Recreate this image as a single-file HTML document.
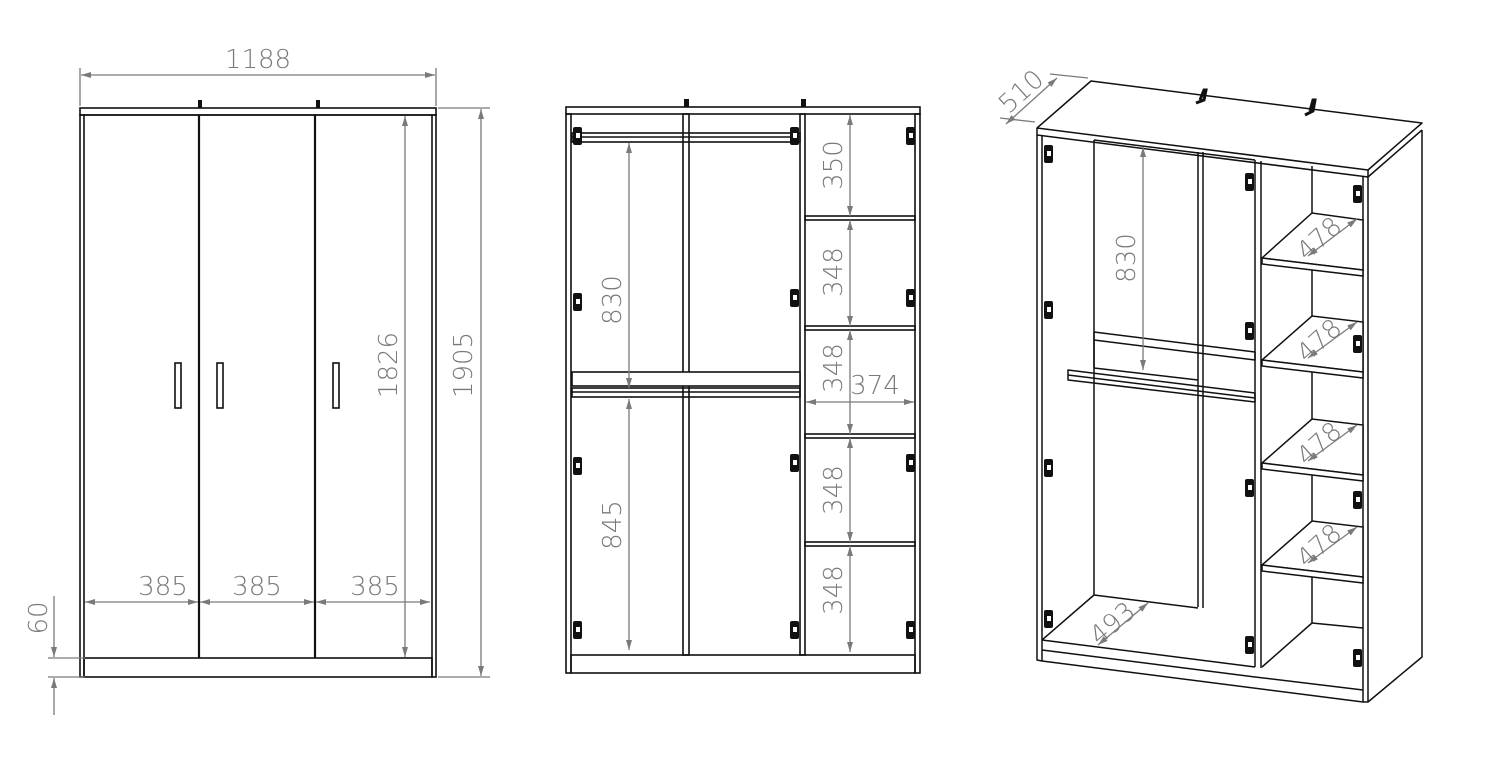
<!DOCTYPE html>
<html><head><meta charset="utf-8"><style>
html,body{margin:0;padding:0;background:#fff;}
svg{display:block}
text{font-family:"DejaVu Sans","Liberation Sans",sans-serif;fill:#7a7a7a;font-size:26px;font-weight:300}
</style></head><body>
<svg width="1500" height="769" viewBox="0 0 1500 769" xmlns="http://www.w3.org/2000/svg">
<defs>
<marker id="a" viewBox="0 0 10 6" refX="10" refY="3" markerWidth="14" markerHeight="6" markerUnits="userSpaceOnUse" orient="auto-start-reverse"><path d="M0,0L10,3L0,6z" fill="#7a7a7a"/></marker>
<g id="h"><rect x="-4" y="-9" width="9" height="18" rx="2" fill="#111"/><rect x="-1" y="-3" width="4" height="5" fill="#fff"/></g>
</defs>
<!-- LEFT WARDROBE -->
<g stroke="#111" stroke-width="1.6" fill="none">
<rect x="80" y="108" width="356" height="7"/>
<rect x="80" y="115" width="4" height="562"/><rect x="432" y="115" width="4" height="562"/>
<rect x="84" y="658" width="348" height="19"/>
<line x1="84" y1="115" x2="432" y2="115"/>
<line x1="199" y1="115" x2="199" y2="658" stroke-width="2.2"/>
<line x1="315" y1="115" x2="315" y2="658" stroke-width="2.2"/>
<rect x="175" y="363" width="6" height="45"/><rect x="217" y="363" width="6" height="45"/><rect x="333" y="363" width="6" height="45"/>
</g>
<rect x="198" y="100" width="4" height="8" fill="#111"/><rect x="316" y="100" width="4" height="8" fill="#111"/>
<!-- MIDDLE WARDROBE -->
<g stroke="#111" stroke-width="1.6" fill="none">
<rect x="566" y="107" width="354" height="7"/>
<rect x="566" y="114" width="5" height="559"/><rect x="915" y="114" width="5" height="559"/>
<rect x="571" y="655" width="344" height="18"/>
<rect x="800" y="114" width="5" height="541"/>
<rect x="683" y="114" width="6" height="541"/>
<rect x="572" y="133" width="228" height="9"/>
<line x1="572" y1="137" x2="800" y2="137"/>
<rect x="572" y="372" width="228" height="14" fill="#fff"/>
<rect x="572" y="388" width="228" height="9"/>
<line x1="572" y1="392" x2="800" y2="392"/>
<rect x="805" y="216" width="110" height="4"/>
<rect x="805" y="326" width="110" height="4"/>
<rect x="805" y="434" width="110" height="4"/>
<rect x="805" y="542" width="110" height="4"/>
</g>
<rect x="684" y="99" width="5" height="8" fill="#111"/><rect x="801" y="99" width="5" height="8" fill="#111"/>
<g>
<use href="#h" x="577" y="136"/><use href="#h" x="577" y="302"/><use href="#h" x="577" y="466"/><use href="#h" x="577" y="630"/>
<use href="#h" x="794" y="136"/><use href="#h" x="794" y="298"/><use href="#h" x="794" y="463"/><use href="#h" x="794" y="630"/>
<use href="#h" x="910" y="136"/><use href="#h" x="910" y="298"/><use href="#h" x="910" y="463"/><use href="#h" x="910" y="630"/>
</g>
<!-- RIGHT ISO WARDROBE -->
<g stroke="#111" stroke-width="1.5" fill="none" stroke-linejoin="round">
<polygon points="1037,128 1091,81 1422,123 1368,170"/>
<polyline points="1037,128 1037,135 1368,177 1422,130"/>
<line x1="1368" y1="170" x2="1368" y2="177"/>
<polyline points="1422,130 1422,657 1368,702 1363,702"/>
<line x1="1368" y1="177" x2="1368" y2="702"/>
<line x1="1363" y1="177" x2="1363" y2="702"/>
<polyline points="1037,135 1037,660 1042,661"/>
<line x1="1042" y1="136" x2="1042" y2="661"/>
<polyline points="1042,640 1255,667"/>
<polyline points="1042,650 1255,677"/>
<line x1="1042" y1="661" x2="1363" y2="702"/>
<line x1="1255" y1="677" x2="1363" y2="690"/>
<line x1="1042" y1="640" x2="1094" y2="595"/>
<line x1="1094" y1="595" x2="1198" y2="608"/>
<line x1="1094" y1="140" x2="1094" y2="595"/>
<line x1="1198" y1="152" x2="1198" y2="607"/><line x1="1203" y1="152" x2="1203" y2="608"/>
<line x1="1255" y1="160" x2="1255" y2="667"/><line x1="1261" y1="161" x2="1261" y2="668"/>
<line x1="1094" y1="140" x2="1255" y2="160"/>
<polygon points="1094,332 1255,352 1255,360 1094,340" />
<line x1="1094" y1="340" x2="1094" y2="368"/>
<line x1="1094" y1="368" x2="1198" y2="380"/>
<polygon points="1068,370 1255,393 1255,402 1068,380"/>
<line x1="1068" y1="375" x2="1255" y2="398"/>
<line x1="1312" y1="166" x2="1312" y2="623"/>
<line x1="1262" y1="667" x2="1312" y2="623"/><line x1="1312" y1="623" x2="1363" y2="628"/>
</g>
<g stroke="#111" stroke-width="1.5" fill="#fff">
<polygon points="1262,258 1312,213 1363,220 1363,270"/>
<polygon points="1262,258 1363,270 1363,276 1262,264"/>
<polygon points="1262,360 1312,316 1363,322 1363,372"/>
<polygon points="1262,360 1363,372 1363,378 1262,366"/>
<polygon points="1262,463 1312,419 1363,425 1363,475"/>
<polygon points="1262,463 1363,475 1363,481 1262,469"/>
<polygon points="1262,565 1312,521 1363,527 1363,577"/>
<polygon points="1262,565 1363,577 1363,583 1262,571"/>
</g>
<path d="M1200,100 L1204,90 L1206,90 L1204,100 L1196,103" stroke="#111" stroke-width="3" fill="none"/>
<path d="M1310,111 L1313,100 L1315,100 L1313,111 L1305,115" stroke="#111" stroke-width="3" fill="none"/>
<g>
<use href="#h" x="1048" y="154"/><use href="#h" x="1048" y="310"/><use href="#h" x="1048" y="468"/><use href="#h" x="1048" y="619"/>
<use href="#h" x="1249" y="182"/><use href="#h" x="1249" y="331"/><use href="#h" x="1249" y="488"/><use href="#h" x="1249" y="645"/>
<use href="#h" x="1357" y="194"/><use href="#h" x="1357" y="344"/><use href="#h" x="1357" y="500"/><use href="#h" x="1357" y="658"/>
</g>
<!-- DIMENSIONS -->
<g stroke="#7a7a7a" stroke-width="1.3" fill="none">
<line x1="80" y1="68" x2="80" y2="106"/><line x1="436" y1="68" x2="436" y2="106"/>
<line x1="81" y1="75" x2="435" y2="75" marker-start="url(#a)" marker-end="url(#a)"/>
<line x1="438" y1="108" x2="490" y2="108"/><line x1="438" y1="677" x2="490" y2="677"/>
<line x1="481" y1="109" x2="481" y2="676" marker-start="url(#a)" marker-end="url(#a)"/>
<line x1="405" y1="116" x2="405" y2="657" marker-start="url(#a)" marker-end="url(#a)"/>
<line x1="85" y1="602" x2="198" y2="602" marker-start="url(#a)" marker-end="url(#a)"/>
<line x1="200" y1="602" x2="314" y2="602" marker-start="url(#a)" marker-end="url(#a)"/>
<line x1="316" y1="602" x2="430" y2="602" marker-start="url(#a)" marker-end="url(#a)"/>
<line x1="48" y1="658" x2="85" y2="658"/><line x1="48" y1="677" x2="85" y2="677"/>
<line x1="54" y1="596" x2="54" y2="657" marker-end="url(#a)"/>
<line x1="54" y1="715" x2="54" y2="678" marker-end="url(#a)"/>
<line x1="629" y1="143" x2="629" y2="388" marker-start="url(#a)" marker-end="url(#a)"/>
<line x1="629" y1="399" x2="629" y2="650" marker-start="url(#a)" marker-end="url(#a)"/>
<line x1="850" y1="115" x2="850" y2="216" marker-start="url(#a)" marker-end="url(#a)"/>
<line x1="850" y1="220" x2="850" y2="326" marker-start="url(#a)" marker-end="url(#a)"/>
<line x1="850" y1="330" x2="850" y2="434" marker-start="url(#a)" marker-end="url(#a)"/>
<line x1="850" y1="438" x2="850" y2="542" marker-start="url(#a)" marker-end="url(#a)"/>
<line x1="850" y1="546" x2="850" y2="652" marker-start="url(#a)" marker-end="url(#a)"/>
<line x1="806" y1="402" x2="914" y2="402" marker-start="url(#a)" marker-end="url(#a)"/>
<line x1="1035" y1="122" x2="1000" y2="118"/><line x1="1088" y1="78" x2="1050" y2="74"/>
<line x1="1006" y1="124" x2="1057" y2="78" marker-start="url(#a)" marker-end="url(#a)"/>
<line x1="1143" y1="147" x2="1143" y2="370" marker-start="url(#a)" marker-end="url(#a)"/>
<line x1="1308" y1="256" x2="1357" y2="219" marker-start="url(#a)" marker-end="url(#a)"/>
<line x1="1308" y1="358" x2="1357" y2="322" marker-start="url(#a)" marker-end="url(#a)"/>
<line x1="1308" y1="461" x2="1357" y2="425" marker-start="url(#a)" marker-end="url(#a)"/>
<line x1="1308" y1="563" x2="1357" y2="527" marker-start="url(#a)" marker-end="url(#a)"/>
<line x1="1098" y1="645" x2="1148" y2="603" marker-start="url(#a)" marker-end="url(#a)"/>
</g>
<g>
<text x="258" y="68" text-anchor="middle">1188</text>
<text x="163" y="595" text-anchor="middle">385</text>
<text x="257" y="595" text-anchor="middle">385</text>
<text x="375" y="595" text-anchor="middle">385</text>
<text transform="translate(472,365) rotate(-90)" text-anchor="middle">1905</text>
<text transform="translate(397,365) rotate(-90)" text-anchor="middle">1826</text>
<text transform="translate(47,618) rotate(-90)" text-anchor="middle">60</text>
<text transform="translate(621,300) rotate(-90)" text-anchor="middle">830</text>
<text transform="translate(621,525) rotate(-90)" text-anchor="middle">845</text>
<text transform="translate(842,165) rotate(-90)" text-anchor="middle">350</text>
<text transform="translate(842,272) rotate(-90)" text-anchor="middle">348</text>
<text transform="translate(842,368) rotate(-90)" text-anchor="middle">348</text>
<text transform="translate(842,490) rotate(-90)" text-anchor="middle">348</text>
<text transform="translate(842,590) rotate(-90)" text-anchor="middle">348</text>
<text x="875" y="394" text-anchor="middle">374</text>
<text transform="translate(1027,98) rotate(-42)" text-anchor="middle">510</text>
<text transform="translate(1135,258) rotate(-90)" text-anchor="middle">830</text>
<text transform="translate(1325,245) rotate(-42)" text-anchor="middle">478</text>
<text transform="translate(1325,347) rotate(-42)" text-anchor="middle">478</text>
<text transform="translate(1325,450) rotate(-42)" text-anchor="middle">478</text>
<text transform="translate(1325,552) rotate(-42)" text-anchor="middle">478</text>
<text transform="translate(1118,630) rotate(-40)" text-anchor="middle">493</text>
</g>
</svg>
</body></html>
